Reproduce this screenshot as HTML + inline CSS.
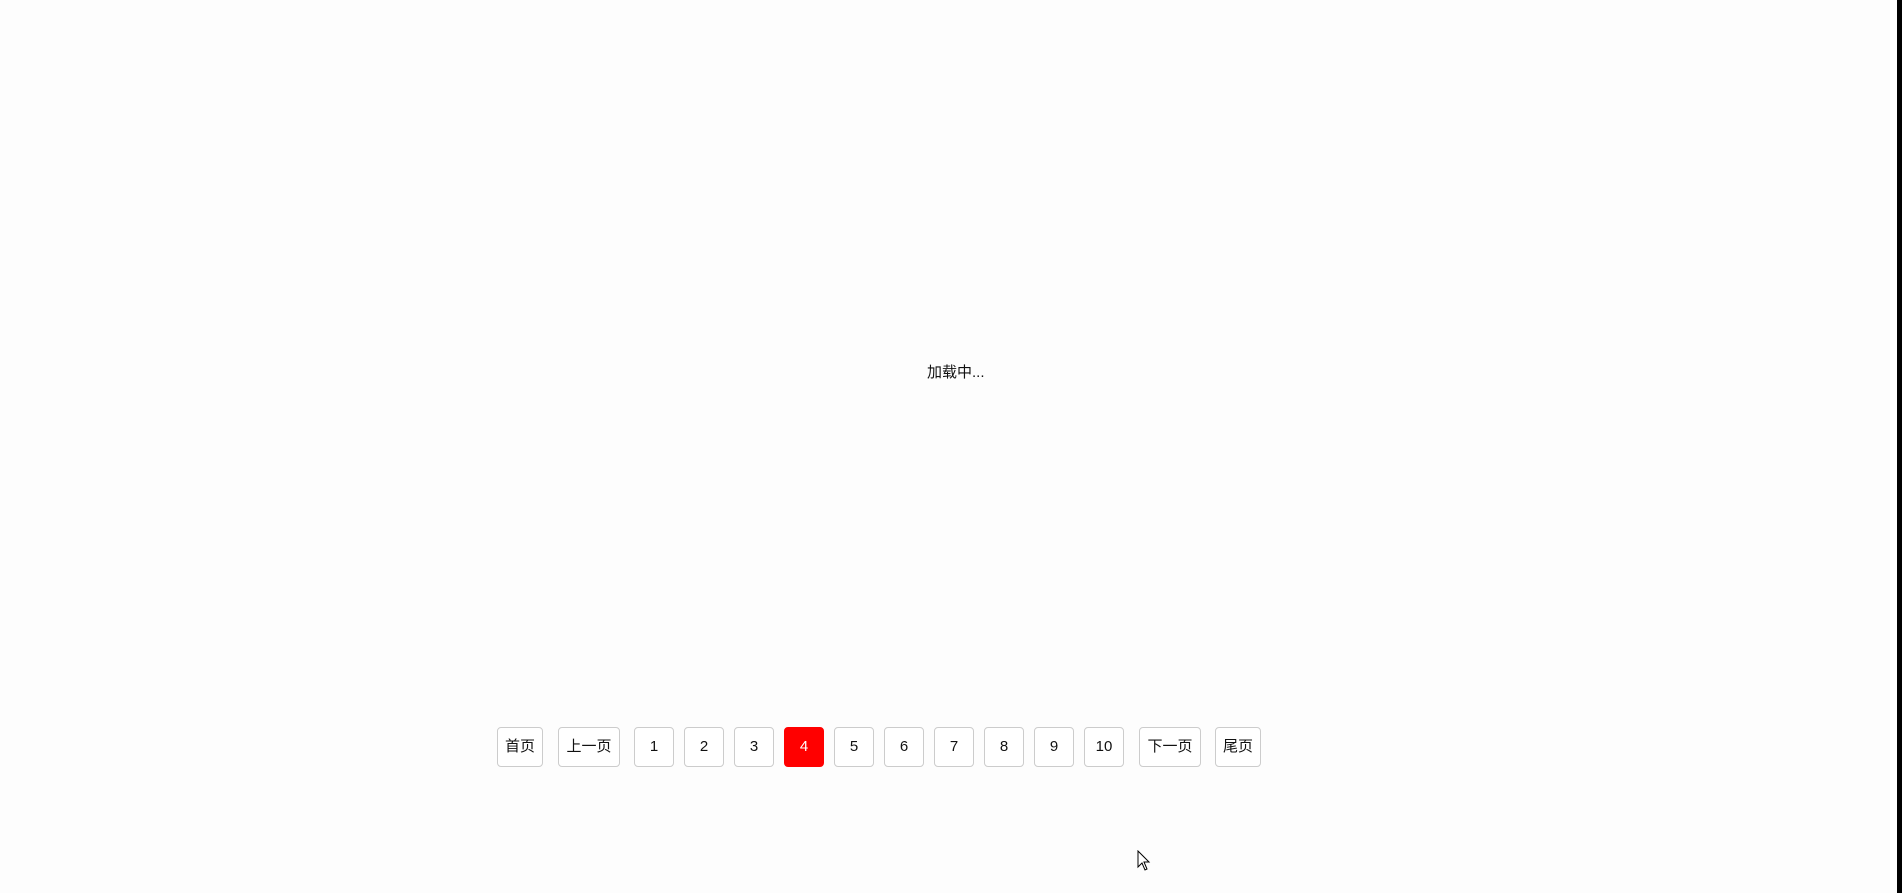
<!DOCTYPE html>
<html><head><meta charset="utf-8"><style>
html,body{margin:0;padding:0;width:1902px;height:893px;overflow:hidden;background:#fdfdfd;font-family:"Liberation Sans","Noto Sans CJK SC",sans-serif;}
#sb{position:absolute;left:1897px;top:0;width:5px;height:893px;background:#000;}
.loading{position:absolute;left:927px;top:361px;font-size:15px;color:#111;}
.btn{position:absolute;top:727px;height:38px;border:1px solid #ccc;border-radius:4px;background:#fff;font-size:15px;line-height:38px;text-align:center;color:#111;box-sizing:content-box;}
.act{background:#f00;border-color:#f00;color:#fff;}
</style></head><body>
<div id="sb"></div>
<div class="loading">加载中...</div>
<div class="btn" style="left:497px;width:44px">首页</div>
<div class="btn" style="left:558px;width:60px">上一页</div>
<div class="btn" style="left:634px;width:38px">1</div>
<div class="btn" style="left:684px;width:38px">2</div>
<div class="btn" style="left:734px;width:38px">3</div>
<div class="btn act" style="left:784px;width:38px">4</div>
<div class="btn" style="left:834px;width:38px">5</div>
<div class="btn" style="left:884px;width:38px">6</div>
<div class="btn" style="left:934px;width:38px">7</div>
<div class="btn" style="left:984px;width:38px">8</div>
<div class="btn" style="left:1034px;width:38px">9</div>
<div class="btn" style="left:1084px;width:38px">10</div>
<div class="btn" style="left:1139px;width:60px">下一页</div>
<div class="btn" style="left:1215px;width:44px">尾页</div>
<svg style="position:absolute;left:1137px;top:850px" width="14" height="22"><path d="M1 1 L1 17 L5 13 L8 20 L10 19 L7 12 L12 12 Z" fill="#fff" stroke="#000" stroke-width="1"/></svg>
</body></html>
